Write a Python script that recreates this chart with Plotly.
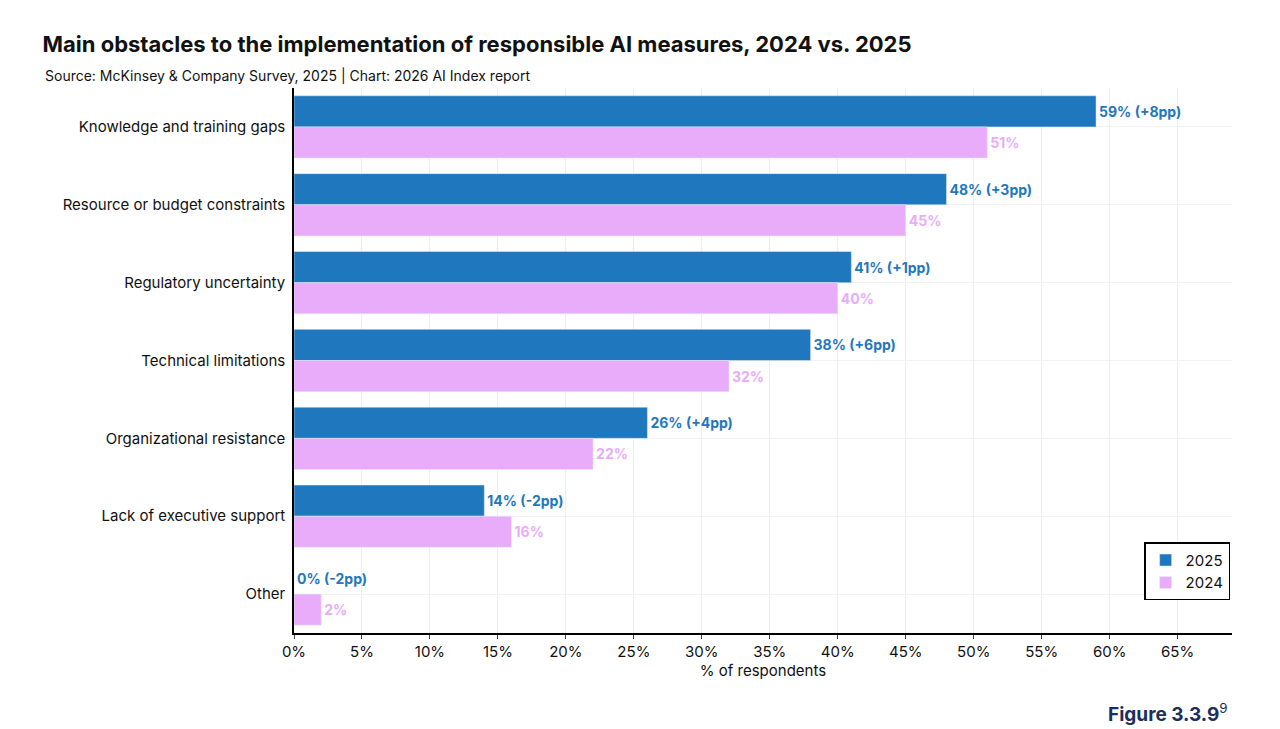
import plotly.graph_objects as go

categories = ["Knowledge and training gaps", "Resource or budget constraints", "Regulatory uncertainty",
              "Technical limitations", "Organizational resistance", "Lack of executive support", "Other"]
vals_2025 = [59, 48, 41, 38, 26, 14, 0]
vals_2024 = [51, 45, 40, 32, 22, 16, 2]
labels_2025 = ["59% (+8pp)", "48% (+3pp)", "41% (+1pp)", "38% (+6pp)", "26% (+4pp)", "14% (-2pp)", "0% (-2pp)"]
labels_2024 = ["51%", "45%", "40%", "32%", "22%", "16%", "2%"]
tick_vals = list(range(0, 70, 5))
tick_text = [f"{v}%" for v in tick_vals]

blue = "#1f78bd"
pink = "#e9acfb"
font = "Inter, Lato, sans-serif"

fig = go.Figure()
fig.add_trace(go.Bar(y=categories, x=vals_2025, orientation="h", name="2025", marker_color=blue,
                     text=[f"<b>{t}</b>" for t in labels_2025], textposition="outside", cliponaxis=False,
                     textfont=dict(color=blue, size=14, family=font)))
fig.add_trace(go.Bar(y=categories, x=vals_2024, orientation="h", name="2024", marker_color=pink,
                     text=[f"<b>{t}</b>" for t in labels_2024], textposition="outside", cliponaxis=False,
                     textfont=dict(color=pink, size=14, family=font)))

fig.update_layout(
    width=1280, height=729,
    barmode="group", bargap=0.2, bargroupgap=0,
    plot_bgcolor="white", paper_bgcolor="white",
    font=dict(family=font, size=15, color="#111"),
    margin=dict(l=286, r=56, t=80, b=104, autoexpand=False),
    title=dict(text="<b>Main obstacles to the implementation of responsible AI measures, 2024 vs. 2025</b>",
               x=0.027, xanchor="left", y=0.95, yanchor="middle", font=dict(size=22, color="#111")),
    legend=dict(x=0.998, xanchor="right", y=0.06, yanchor="bottom", bordercolor="black", borderwidth=1.5,
                font=dict(size=15), itemwidth=30),
    xaxis=dict(range=[0, 69], tickvals=tick_vals, ticktext=tick_text, showgrid=True, automargin=False,
               gridcolor="#eeeeee", showline=True, linecolor="black", linewidth=1.5, zeroline=False,
               ticks="outside", ticklen=4, tickfont=dict(size=15),
               title=dict(text="% of respondents", font=dict(size=15), standoff=6)),
    yaxis=dict(autorange="reversed", showline=True, linecolor="black", linewidth=1.5, showgrid=True,
               automargin=False, gridcolor="#f2f2f2", ticks="", ticklabelstandoff=4,
               tickfont=dict(size=15)),
)
fig.add_annotation(text="Source: McKinsey & Company Survey, 2025 | Chart: 2026 AI Index report",
                   xref="paper", yref="paper", x=-0.268, y=1.0, xanchor="left", yanchor="bottom",
                   yshift=2, showarrow=False, font=dict(size=14, color="#111"))
fig.add_annotation(text="<b>Figure 3.3.9</b><sup>9</sup>", xref="paper", yref="paper", x=0.998, y=-0.147,
                   xanchor="right", yanchor="middle", showarrow=False, font=dict(size=19, color="#1b2f5c"))

fig.write_html("out.html")
